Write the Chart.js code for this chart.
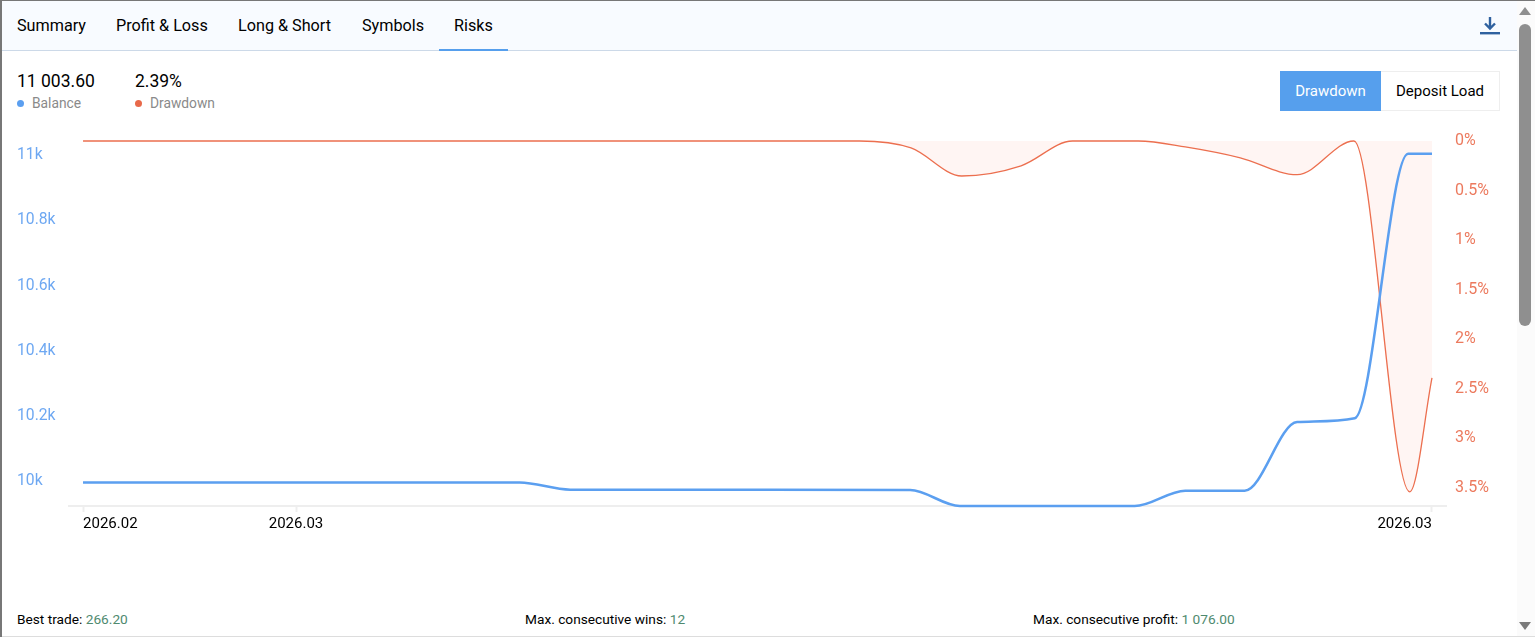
<!DOCTYPE html>
<html lang="en">
<head>
  <meta charset="UTF-8"/>
  <title>Risks</title>
  <script src="https://cdn.jsdelivr.net/npm/chart.js"></script>
  <style>
    * { box-sizing: border-box; }
    html, body { margin: 0; height: 100%; overflow: hidden; background: #fff; }
    body { font-family: Roboto, sans-serif; color: #000; position: relative; width: 1535px; height: 638px; }
    .abs { position: absolute; white-space: nowrap; }

    /* Window edges */
    #edgeTop { left: 0; top: 0; width: 1535px; height: 1px; background: #777; }
    #edgeLeft { left: 0; top: 0; width: 2px; height: 637px; background: #777; }
    #edgeBottom { left: 0; top: 636px; width: 1535px; height: 1px; background: #ddd; }

    /* Tabs */
    #tabs { left: 2px; top: 1px; width: 1515px; height: 50px; background: #f8fbff; border-bottom: 1px solid #ccd9e8; }
    .tab { top: 16px; font-size: 16.2px; line-height: 19px; }
    #activeTab { left: 439px; top: 49px; width: 69px; height: 2px; background: #569fed; }

    /* Summary */
    .big { top: 71px; font-size: 17.5px; line-height: 20px; }
    .sub { top: 95px; font-size: 13.8px; line-height: 16px; color: #8a8a8a; }
    .dot { top: 100px; width: 7px; height: 7px; border-radius: 50%; }

    /* Mode buttons */
    #btnDrawdown { left: 1280px; top: 71px; width: 101px; height: 40px; background: #569fed; color: #fff; font-size: 15px; line-height: 40px; text-align: center; }
    #btnLoad { left: 1381px; top: 71px; width: 119px; height: 40px; border: 1px solid #eee; border-left: 0; font-size: 15px; line-height: 38px; text-align: center; }

    #chartBox { left: 0; top: 125px; width: 1516px; height: 435px; }

    /* Footer */
    .foot { top: 611px; font-size: 13.7px; line-height: 16px; }
    .foot span { color: #4f8a6f; }

    /* Scrollbar */
    #track { left: 1517px; top: 1px; width: 18px; height: 635px; background: #fbfbfb; }
    #thumb { left: 1519px; top: 24px; width: 12px; height: 302px; border-radius: 6px; background: #8f8f8f; }
  </style>
</head>
<body>
  <div class="abs" id="edgeTop"></div>
  <div class="abs" id="edgeBottom"></div>

  <div class="abs" id="tabs"></div>
  <div class="abs tab" style="left:17px">Summary</div>
  <div class="abs tab" style="left:116px">Profit &amp; Loss</div>
  <div class="abs tab" style="left:238px">Long &amp; Short</div>
  <div class="abs tab" style="left:362px">Symbols</div>
  <div class="abs tab" style="left:454px">Risks</div>
  <div class="abs" id="activeTab"></div>
  <svg class="abs" style="left:1480px;top:17px" width="20" height="18" viewBox="0 0 20 18">
    <path d="M10 0v11M5 6.500l5 5 5-5" fill="none" stroke="#2f619f" stroke-width="2.400"/>
    <rect x="0" y="15" width="20" height="2.400" fill="#2f619f"/>
  </svg>

  <div class="abs big" style="left:17px">11 003.60</div>
  <div class="abs big" style="left:135px">2.39%</div>
  <div class="abs dot" style="left:17px;background:#5b9ff0"></div>
  <div class="abs sub" style="left:32px">Balance</div>
  <div class="abs dot" style="left:135px;background:#e8694a"></div>
  <div class="abs sub" style="left:150px">Drawdown</div>

  <div class="abs" id="btnDrawdown">Drawdown</div>
  <div class="abs" id="btnLoad">Deposit Load</div>

  <div class="abs" id="chartBox"><canvas id="riskChart" width="1516" height="435"></canvas></div>

  <div class="abs foot" style="left:17px">Best trade: <span>266.20</span></div>
  <div class="abs foot" style="left:525px">Max. consecutive wins: <span>12</span></div>
  <div class="abs foot" style="left:1033px">Max. consecutive profit: <span>1 076.00</span></div>

  <div class="abs" id="track"></div>
  <div class="abs" id="thumb"></div>
  <svg class="abs" style="left:1518px;top:6px" width="14" height="10"><path d="M7 1l6 8H1z" fill="#8f8f8f"/></svg>
  <svg class="abs" style="left:1518px;top:621px" width="14" height="10"><path d="M7 9L1 1h12z" fill="#7a7a7a"/></svg>
  <div class="abs" id="edgeLeft"></div>

  <script>
    // Time axis, hours from the first tick
    const timeTicks = [0, 24, 152];
    const timeLabels = ['2026.02', '2026.03', '2026.03'];
    const labelAligns = ['left', 'center', 'right'];

    const balanceTimes = [0, 49.2, 54.9, 77.4, 93.2, 98.8, 118.5, 124.2, 130.9, 136.8, 143.3, 149.3, 152];
    const balanceValues = [9997, 9997, 9975, 9975, 9974, 9925, 9925, 9972, 9972, 10182, 10194, 11003.6, 11003.6];

    const drawdownTimes = [0, 87.5, 93.3, 99, 105.7, 111.5, 118.9, 124.2, 130.4, 136.8, 143.2, 149.5, 152];
    const drawdownValues = [0, 0, 0.07, 0.353, 0.25, 0, 0, 0.06, 0.17, 0.34, 0, 3.54, 2.39];

    const balanceTicks = [10000, 10200, 10400, 10600, 10800, 11000];
    const drawdownTicks = [0, 0.5, 1, 1.5, 2, 2.5, 3, 3.5];

    const BLUE = '#5b9ff0';
    const RED = '#ec6f4f';
    const AXIS = '#eeeeee';

    const pairs = (xs, ys) => xs.map((x, i) => ({ x, y: ys[i] }));

    // First tick label starts on its mark, last one ends on it
    const timeLabelPlugin = {
      id: 'timeLabels',
      afterDraw(chart) {
        const { ctx, scales: { x } } = chart;
        ctx.save();
        ctx.font = '15px Roboto';
        ctx.fillStyle = '#000';
        ctx.textBaseline = 'middle';
        timeTicks.forEach((t, i) => {
          ctx.textAlign = labelAligns[i];
          ctx.fillText(timeLabels[i], x.getPixelForValue(t), x.top + 18);
        });
        ctx.restore();
      }
    };

    new Chart(document.getElementById('riskChart'), {
      type: 'line',
      plugins: [timeLabelPlugin],
      data: {
        datasets: [
          {
            label: 'Balance',
            data: pairs(balanceTimes, balanceValues),
            yAxisID: 'y',
            borderColor: BLUE,
            borderWidth: 2.5,
            clip: 6,
            order: 1
          },
          {
            label: 'Drawdown',
            data: pairs(drawdownTimes, drawdownValues),
            yAxisID: 'y2',
            borderColor: RED,
            borderWidth: 1.3,
            backgroundColor: '#fff5f3',
            fill: { target: { value: 0 } },
            clip: 6,
            order: 2
          }
        ]
      },
      options: {
        responsive: false,
        animation: false,
        elements: { point: { radius: 0 }, line: { cubicInterpolationMode: 'monotone' } },
        layout: { padding: { left: 17, top: 16, right: 0, bottom: 0 } },
        plugins: { legend: { display: false }, tooltip: { enabled: false } },
        scales: {
          x: {
            type: 'linear',
            min: -1.58,
            max: 153.58,
            afterBuildTicks: axis => { axis.ticks = timeTicks.map(value => ({ value })); },
            afterFit: axis => { axis.height = 54; },
            ticks: { display: false },
            border: { color: AXIS, width: 2 },
            grid: { drawOnChartArea: false, drawTicks: true, tickLength: 6, tickColor: AXIS, tickWidth: 2 }
          },
          y: {
            position: 'left',
            min: 9925,
            max: 11043,
            afterBuildTicks: axis => { axis.ticks = balanceTicks.map(value => ({ value })); },
            afterFit: axis => { axis.width = 52; },
            ticks: {
              crossAlign: 'far',
              color: '#6ea8f2',
              font: { family: 'Roboto', size: 15.7 },
              callback: v => (v / 1000) + 'k'
            },
            border: { display: false },
            grid: { display: false }
          },
          y2: {
            position: 'right',
            reverse: true,
            min: 0,
            max: 3.683,
            afterBuildTicks: axis => { axis.ticks = drawdownTicks.map(value => ({ value })); },
            afterFit: axis => { axis.width = 70; },
            ticks: {
              padding: 1,
              color: '#ec7a5e',
              font: { family: 'Roboto', size: 16 },
              callback: v => v + '%'
            },
            border: { display: false },
            grid: { display: false }
          }
        }
      }
    });
  </script>
</body>
</html>
